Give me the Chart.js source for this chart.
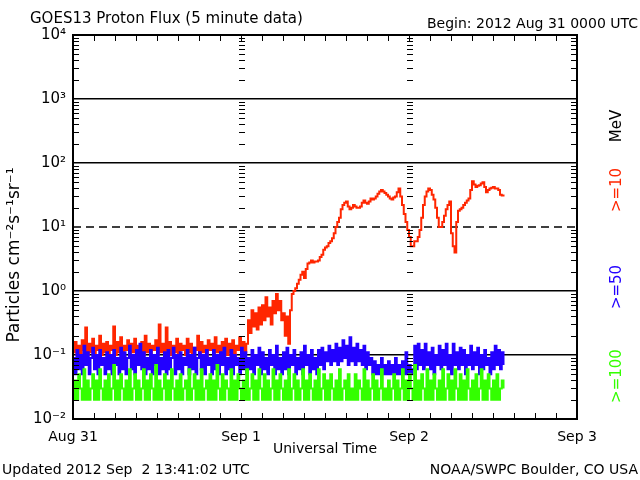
<!DOCTYPE html>
<html>
<head>
<meta charset="utf-8">
<script src="https://cdn.jsdelivr.net/npm/chart.js@4"></script>
<style>
  html, body { margin: 0; padding: 0; background: #fff; }
  canvas { display: block; }
</style>
</head>
<body>
<canvas id="myChart" width="640" height="480"></canvas>
<script>
// 15 minute samples, hours since 2012 Aug 31 00:00 UTC
var stepHours = 0.25;

var flux10 = [
  0.11,0.16,0.10,0.14,0.09,0.17,0.12,0.27,0.10,0.15,0.11,0.18,0.09,0.14,0.12,0.20,0.10,0.15,0.11,0.16,
  0.10,0.14,0.12,0.28,0.10,0.16,0.11,0.19,0.09,0.14,0.12,0.17,0.10,0.15,0.11,0.18,0.09,0.14,0.12,0.16,
  0.10,0.20,0.11,0.15,0.09,0.14,0.12,0.17,0.10,0.30,0.11,0.15,0.09,0.27,0.12,0.16,0.10,0.14,0.11,0.18,
  0.09,0.15,0.12,0.14,0.10,0.18,0.11,0.15,0.09,0.13,0.12,0.20,0.10,0.16,0.11,0.14,0.09,0.17,0.12,0.15,
  0.10,0.19,0.11,0.14,0.09,0.16,0.12,0.18,0.10,0.15,0.11,0.17,0.09,0.14,0.12,0.19,0.10,0.16,0.11,0.15,
  0.35,0.22,0.50,0.28,0.45,0.25,0.55,0.30,0.60,0.35,0.80,0.40,0.55,0.30,0.70,0.45,0.90,0.50,0.70,0.35,
  0.45,0.20,0.40,0.15,0.50,0.90,
  1.0,1.1,1.3,1.5,1.8,2.0,1.6,2.2,2.7,2.8,3.0,2.8,2.9,2.9,3.0,3.4,3.7,4.4,4.8,5.0,5.6,6.0,6.7,8.0,
  10,12,14,19,22,24,25,21,19,20,22,21,20,20,21,24,26,24,23,25,28,27,28,30,33,36,38,36,34,32,
  30,28,27,29,30,35,40,30,22,16,12,9,7,5,5,6,6,7,9,14,22,30,36,40,38,32,27,20,14,10,
  10,12,15,19,22,25,8,5,4,12,18,19,20,22,24,26,28,38,52,46,42,44,45,48,50,42,35,38,40,41,
  42,40,40,38,32,31,30
];

var flux50 = [
  0.09,0.05,0.12,0.06,0.10,0.05,0.14,0.07,0.11,0.05,0.09,0.13,0.06,0.10,0.05,0.12,0.07,0.09,0.05,0.11,
  0.06,0.10,0.05,0.12,0.07,0.09,0.05,0.13,0.06,0.11,0.05,0.09,0.14,0.06,0.10,0.05,0.12,0.07,0.15,0.06,
  0.11,0.05,0.09,0.06,0.12,0.05,0.10,0.07,0.13,0.05,0.09,0.06,0.11,0.05,0.12,0.06,0.09,0.13,0.05,0.10,
  0.06,0.11,0.05,0.09,0.07,0.12,0.05,0.10,0.06,0.13,0.05,0.09,0.11,0.06,0.10,0.05,0.12,0.07,0.09,0.05,
  0.12,0.06,0.10,0.05,0.11,0.07,0.13,0.05,0.09,0.06,0.12,0.05,0.10,0.07,0.09,0.05,0.13,0.06,0.11,0.05,
  0.09,0.06,0.12,0.05,0.10,0.07,0.13,0.05,0.11,0.06,0.09,0.05,0.12,0.07,0.10,0.05,0.14,0.06,0.09,0.05,
  0.11,0.06,0.13,0.05,0.10,0.07,0.12,0.05,0.09,0.06,0.11,0.05,0.14,0.07,0.10,0.05,0.12,0.06,0.09,0.05,
  0.12,0.07,0.13,0.06,0.11,0.08,0.14,0.07,0.12,0.08,0.15,0.07,0.13,0.08,0.17,0.09,0.14,0.07,0.19,0.08,
  0.13,0.07,0.15,0.08,0.12,0.07,0.14,0.06,0.11,0.07,0.09,0.05,0.08,0.05,0.07,0.05,0.09,0.05,0.07,0.05,
  0.08,0.05,0.07,0.05,0.09,0.05,0.07,0.05,0.08,0.05,0.11,0.05,0.07,0.05,0.06,0.14,0.06,0.15,0.07,0.12,
  0.06,0.15,0.07,0.11,0.06,0.13,0.05,0.10,0.07,0.14,0.06,0.12,0.07,0.15,0.06,0.10,0.05,0.15,0.07,0.11,
  0.06,0.13,0.07,0.12,0.05,0.10,0.07,0.14,0.06,0.11,0.07,0.13,0.05,0.10,0.06,0.12,0.07,0.09,0.05,0.11,
  0.06,0.14,0.07,0.12,0.06,0.11,0.07
];

var flux100 = [
  0.02,0.04,0.02,0.05,0.03,0.02,0.06,0.02,0.04,0.02,0.03,0.05,0.02,0.04,0.02,0.06,0.03,0.02,0.04,0.02,
  0.05,0.02,0.03,0.07,0.02,0.04,0.02,0.05,0.03,0.02,0.04,0.02,0.06,0.02,0.03,0.05,0.02,0.04,0.02,0.03,
  0.06,0.02,0.04,0.02,0.05,0.03,0.02,0.07,0.02,0.04,0.02,0.03,0.05,0.02,0.04,0.02,0.06,0.03,0.02,0.04,
  0.02,0.05,0.02,0.03,0.04,0.02,0.06,0.02,0.03,0.05,0.02,0.04,0.02,0.06,0.02,0.03,0.04,0.02,0.05,0.02,
  0.04,0.02,0.07,0.03,0.02,0.05,0.02,0.04,0.03,0.02,0.06,0.02,0.04,0.02,0.05,0.03,0.02,0.04,0.02,0.06,
  0.02,0.03,0.05,0.02,0.04,0.02,0.06,0.03,0.02,0.05,0.02,0.04,0.02,0.03,0.06,0.02,0.04,0.02,0.05,0.03,
  0.02,0.04,0.02,0.06,0.02,0.03,0.05,0.02,0.04,0.02,0.03,0.06,0.02,0.04,0.02,0.05,0.03,0.02,0.04,0.02,
  0.06,0.02,0.03,0.05,0.02,0.04,0.02,0.05,0.03,0.02,0.04,0.02,0.06,0.02,0.03,0.04,0.02,0.05,0.02,0.03,
  0.02,0.05,0.02,0.04,0.03,0.02,0.06,0.02,0.04,0.02,0.03,0.05,0.02,0.04,0.02,0.03,0.06,0.02,0.03,0.02,
  0.04,0.02,0.03,0.05,0.02,0.04,0.02,0.03,0.06,0.02,0.04,0.02,0.05,0.03,0.02,0.07,0.02,0.04,0.02,0.05,
  0.03,0.02,0.06,0.02,0.04,0.02,0.05,0.03,0.02,0.04,0.02,0.06,0.02,0.03,0.05,0.02,0.04,0.02,0.06,0.03,
  0.02,0.05,0.02,0.04,0.02,0.06,0.03,0.02,0.04,0.02,0.05,0.02,0.03,0.06,0.02,0.04,0.02,0.05,0.03,0.02,
  0.04,0.02,0.05,0.02,0.03,0.04,0.03
];

var dayTicks = [0, 24, 48, 72];
var dayLabels = ["Aug 31", "Sep 1", "Sep 2", "Sep 3"];
var decades = [0.01, 0.1, 1, 10, 100, 1000, 10000];
var decadeLabels = ["10\u207B\u00B2", "10\u207B\u00B9", "10\u2070", "10\u00B9", "10\u00B2", "10\u00B3", "10\u2074"];
var dashedLevel = 10;

var RED = '#ff2600', BLUE = '#2200ff', GREEN = '#33ff00';
var FONT = '"DejaVu Sans", sans-serif';

function toPoints(arr) {
  return arr.map(function(v, i) { return { x: i * stepHours, y: v }; });
}

var framePlugin = {
  id: 'frame',
  beforeDatasetsDraw: function(chart) {
    var ctx = chart.ctx, a = chart.chartArea;
    var yy = chart.scales.y.getPixelForValue(dashedLevel);
    ctx.save();
    ctx.strokeStyle = '#000';
    ctx.lineWidth = 1.5;
    ctx.setLineDash([8, 5]);
    ctx.beginPath();
    ctx.moveTo(a.left, yy);
    ctx.lineTo(a.right, yy);
    ctx.stroke();
    ctx.restore();
  },
  afterDraw: function(chart) {
    var ctx = chart.ctx, a = chart.chartArea, x = chart.scales.x, y = chart.scales.y;
    ctx.save();
    ctx.strokeStyle = '#000';
    ctx.lineWidth = 1;
    ctx.beginPath();
    // minor log ticks on the edges and on the day lines
    for (var d = -2; d < 4; d++) {
      for (var m = 2; m <= 9; m++) {
        var py = Math.round(y.getPixelForValue(m * Math.pow(10, d))) + 0.5;
        dayTicks.forEach(function(h) {
          var px = x.getPixelForValue(h);
          if (h === 0) { ctx.moveTo(px, py); ctx.lineTo(px + 6, py); }
          else if (h === 72) { ctx.moveTo(px - 6, py); ctx.lineTo(px, py); }
          else { ctx.moveTo(px - 2, py); ctx.lineTo(px + 4, py); }
        });
      }
    }
    // 3 hour ticks top and bottom
    for (var h = 3; h < 72; h += 3) {
      var px = Math.round(x.getPixelForValue(h)) + 0.5;
      ctx.moveTo(px, a.top); ctx.lineTo(px, a.top + 6);
      ctx.moveTo(px, a.bottom); ctx.lineTo(px, a.bottom - 6);
    }
    ctx.stroke();
    ctx.lineWidth = 2;
    ctx.strokeRect(a.left, a.top, a.right - a.left, a.bottom - a.top);

    // texts
    ctx.fillStyle = '#000';
    ctx.textBaseline = 'alphabetic';
    ctx.font = '15px ' + FONT;
    ctx.textAlign = 'left';
    ctx.fillText('GOES13 Proton Flux (5 minute data)', 30, 23);
    ctx.font = '14px ' + FONT;
    ctx.textAlign = 'right';
    ctx.fillText('Begin: 2012 Aug 31 0000 UTC', 638, 28);
    ctx.textAlign = 'center';
    ctx.fillText('Universal Time', 325, 453);
    ctx.textAlign = 'left';
    ctx.fillText('Updated 2012 Sep  2 13:41:02 UTC', 2, 474);
    ctx.textAlign = 'right';
    ctx.fillText('NOAA/SWPC Boulder, CO USA', 638, 474);

    // rotated labels
    function vtext(t, cx, cy, color, size) {
      ctx.save();
      ctx.translate(cx, cy);
      ctx.rotate(-Math.PI / 2);
      ctx.fillStyle = color;
      ctx.font = size + 'px ' + FONT;
      ctx.textAlign = 'center';
      ctx.textBaseline = 'middle';
      ctx.fillText(t, 0, 0);
      ctx.restore();
    }
    vtext('Particles cm\u207B\u00B2s\u207B\u00B9sr\u207B\u00B9', 15, 255, '#000', 17);
    vtext('MeV', 617, 126, '#000', 15);
    vtext('>=10', 617, 190, RED, 15);
    vtext('>=50', 617, 287, BLUE, 15);
    vtext('>=100', 617, 376, GREEN, 15);
    ctx.restore();
  }
};

var ctx = document.getElementById('myChart').getContext('2d');
var myChart = new Chart(ctx, {
  type: 'line',
  data: {
    datasets: [
      { label: '>=100 MeV', data: toPoints(flux100), borderColor: GREEN, order: 0 },
      { label: '>=50 MeV', data: toPoints(flux50), borderColor: BLUE, order: 1 },
      { label: '>=10 MeV', data: toPoints(flux10), borderColor: RED, order: 2 }
    ]
  },
  options: {
    responsive: false,
    animation: false,
    layout: { padding: { top: 35, right: 63, left: 0, bottom: 0 } },
    elements: {
      point: { radius: 0 },
      line: { borderWidth: 2, tension: 0, stepped: true, fill: false }
    },
    plugins: { legend: { display: false }, tooltip: { enabled: false } },
    scales: {
      x: {
        type: 'linear', min: 0, max: 72,
        afterFit: function(s) { s.height = 61; },
        afterBuildTicks: function(s) { s.ticks = dayTicks.map(function(v) { return { value: v }; }); },
        ticks: {
          autoSkip: false, maxRotation: 0, padding: 2, color: '#000',
          font: { family: FONT, size: 14 },
          callback: function(v) { var i = dayTicks.indexOf(v); return i >= 0 ? dayLabels[i] : ''; }
        },
        grid: { display: false },
        border: { display: false }
      },
      y: {
        type: 'logarithmic', min: 0.01, max: 10000,
        afterFit: function(s) { s.width = 73; },
        afterBuildTicks: function(s) { s.ticks = decades.map(function(v) { return { value: v }; }); },
        ticks: {
          padding: 7, color: '#000',
          font: { family: FONT, size: 15 },
          callback: function(v) { var i = decades.indexOf(v); return i >= 0 ? decadeLabels[i] : ''; }
        },
        grid: {
          drawTicks: false, lineWidth: 1.5,
          color: function(c) { return c.tick && c.tick.value === dashedLevel ? 'rgba(0,0,0,0)' : '#000'; }
        },
        border: { display: false }
      }
    }
  },
  plugins: [framePlugin]
});
</script>
</body>
</html>
